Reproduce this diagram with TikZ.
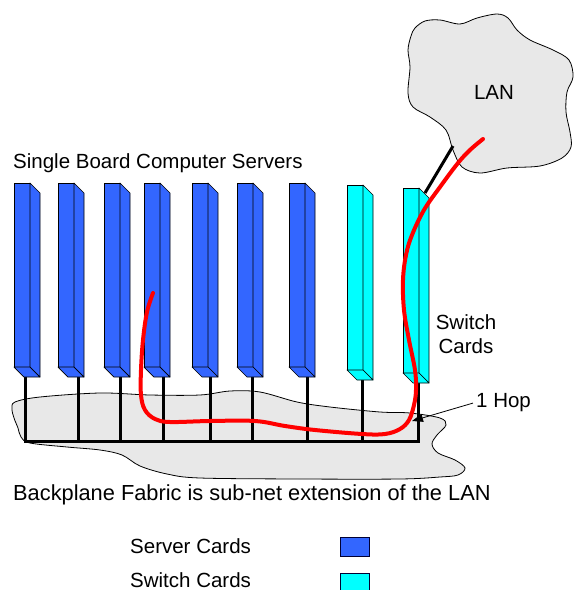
\documentclass[tikz,border=0pt]{standalone}
\usepackage{fontspec}
\setmainfont{Liberation Sans}
\usetikzlibrary{arrows.meta}
\definecolor{srv}{RGB}{51,102,255}
\definecolor{swc}{RGB}{0,255,255}
\definecolor{cloudgray}{RGB}{232,232,232}
\definecolor{hopred}{RGB}{255,0,0}
\tikzset{
  lbl/.style={font=\fontsize{20.5}{24}\selectfont, inner sep=0pt},
  biglbl/.style={font=\fontsize{21.8}{26}\selectfont, inner sep=0pt},
  cloudshape/.style={fill=cloudgray, draw=black, line width=0.8pt},
  wire/.style={line width=3pt, black},
  hoppath/.style={line width=4pt, hopred, line cap=round, line join=round},
  cardface/.style={draw=black, line width=0.7pt, line join=round},
  legendbox/.style={draw=black!80!blue, line width=0.8pt},
}
\newcommand{\drawcard}[5]{% #1 name, #2 front-left x, #3 top y, #4 front-bottom y, #5 colour
  \fill[#5, cardface] (#2,#3) rectangle (#2+16,#4);
  \fill[#5, cardface] (#2+16,#3) -- (#2+26,#3+10) -- (#2+26,#4+10) -- (#2+16,#4) -- cycle;
  \fill[#5, cardface] (#2,#4) -- (#2+16,#4) -- (#2+26,#4+10) -- (#2+10,#4+10) -- cycle;
  \coordinate (#1) at (#2+8,#3);
}
\begin{document}
\begin{tikzpicture}[x=1pt,y=-1pt]
\useasboundingbox (0,0) rectangle (574,590);

% backplane fabric cloud
\draw[cloudshape] plot[smooth cycle, tension=0.55] coordinates {
  (15,402) (40,397) (100,393) (150,395) (200,395) (230,391) (260,392)
  (297,402) (330,407) (380,412) (410,413) (440,418) (446,425) (437,435)
  (432,444) (438,453) (455,460) (465,468) (458,475) (440,477) (400,479)
  (300,479) (200,478) (167,474) (140,466) (122,455) (100,450) (67,447)
  (30,443) (21,437) (18,428) (14,418) (12,409)};

% LAN cloud
\draw[cloudshape] plot[smooth cycle, tension=0.55] coordinates {
  (415,28) (425,21) (440,20) (460,24) (477,18) (497,14) (508,18) (517,30)
  (530,40) (553,50) (569,60) (573,77) (567,92) (566,112) (570,132)
  (571,147) (562,158) (540,166) (507,168) (480,173) (462,167) (453,150)
  (446,130) (430,117) (413,107) (408,93) (410,67) (408,50) (411,36)};
\node[lbl] (lan) at (494,92) {LAN};

% stems and bus
\foreach \n/\sx/\sy in {1/25/377, 2/78/377, 3/120/377, 4/163/377, 5/210/377,
                        6/252/377, 7/307/377, 8/362/380, 9/418/383} {
  \coordinate (s\n) at (\sx,\sy);
  \coordinate (b\n) at (\sx,441);
  \draw[wire] (s\n) -- (b\n);
}
\draw[wire, line cap=rect] (b1) -- (b9);

% cards
\foreach \n/\fx/\ty/\by/\col in {1/14/183/367/srv, 2/58/183/367/srv, 3/104/183/367/srv,
   4/144/183/367/srv, 5/192/183/367/srv, 6/237/183/367/srv, 7/289/183/367/srv,
   8/347/185/370/swc, 9/403/188/373/swc} {
  \drawcard{card\n}{\fx}{\ty}{\by}{\col}
}

% link from switch card to LAN
\coordinate (uplink) at (425,193);
\coordinate (lanport) at (453,146);
\draw[wire] (uplink) -- (lanport);

% red hop path
\draw[hoppath] plot[smooth, tension=0.6] coordinates {
  (153,293) (147,312) (143,340) (141,370) (141,395) (145,410) (155,419)
  (170,422) (210,421) (255,421) (285,426) (315,430) (362,434) (385,434)
  (400,429) (409,420) (414,405) (416,390) (415,370) (409,340) (404,310)
  (403,280) (406,255) (412,235) (424,210) (440,187) (458,163) (470,150)
  (483,139)};

% labels
\node[lbl, anchor=base west] (title) at (13,168) {Single Board Computer Servers};
\node[lbl, align=center] (swlabel) at (466,334) {Switch\\Cards};
\node[lbl, anchor=base west] (hop) at (476,407) {1 Hop};
\coordinate (hoptip) at (412,421);
\draw[line width=0.8pt, -{Triangle[length=11pt,width=8pt]}] ([xshift=-3pt,yshift=-1pt]hop.west) -- (hoptip);
\node[biglbl, anchor=base west] (caption) at (13,500) {Backplane Fabric is sub-net extension of the LAN};

% legend
\node[lbl, anchor=base west] (lgsrv) at (130,553) {Server Cards};
\node[lbl, anchor=base west] (lgsw) at (130,587) {Switch Cards};
\fill[srv, legendbox] (340,537) rectangle (369,556);
\fill[swc, legendbox] (340,573) rectangle (369,590);
\end{tikzpicture}
\end{document}
